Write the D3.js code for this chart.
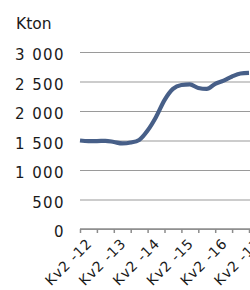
<!DOCTYPE html>
<html>
<head>
<meta charset="utf-8">
<script src="https://cdn.jsdelivr.net/npm/d3@7"></script>
<style>
  body { margin: 0; background: #fff; }
  svg { display: block; }
  text { font-family: "DejaVu Sans", sans-serif; fill: #1a1a1a; }
</style>
</head>
<body>
<div id="chart"></div>
<script>
// --- DATA ---
const quarters = [
  "Kv2 -12", "Kv3 -12", "Kv4 -12", "Kv1 -13",
  "Kv2 -13", "Kv3 -13", "Kv4 -13", "Kv1 -14",
  "Kv2 -14", "Kv3 -14", "Kv4 -14", "Kv1 -15",
  "Kv2 -15", "Kv3 -15", "Kv4 -15", "Kv1 -16",
  "Kv2 -16", "Kv3 -16", "Kv4 -16", "Kv1 -17",
  "Kv2 -17"
];
const volume = [
  1500, 1490, 1490, 1495,
  1475, 1450, 1465, 1510,
  1670, 1900, 2185, 2375,
  2440, 2450, 2390, 2375,
  2460, 2515, 2585, 2635,
  2645
];
const yTicks = [0, 500, 1000, 1500, 2000, 2500, 3000];
const unitLabel = "Kton";

// --- LAYOUT ---
const width = 250, height = 290;
const margin = { top: 52, right: 1, bottom: 61, left: 80 };

const svg = d3.select("#chart").append("svg")
    .attr("width", width)
    .attr("height", height);

const x = d3.scalePoint()
    .domain(quarters)
    .range([margin.left, width - margin.right]);

const y = d3.scaleLinear()
    .domain([0, 3000])
    .range([height - margin.bottom, margin.top]);

// Gridlines + y labels
const fmt = d => d3.format(",")(d).replace(",", " ");
const yAxis = svg.append("g")
    .attr("transform", `translate(${margin.left},0)`)
    .call(d3.axisLeft(y).tickValues(yTicks).tickFormat(fmt)
        .tickSize(-(width - margin.left)).tickPadding(15));
yAxis.select(".domain").remove();
yAxis.selectAll(".tick line").attr("stroke", "#9a9a9a").attr("stroke-width", 1.2);
yAxis.selectAll(".tick text")
    .attr("font-size", 15)
    .attr("letter-spacing", 1.4)
    .attr("dy", "0.5em")
    .style("fill", "#1a1a1a");

// Unit label
svg.append("text")
    .attr("x", 16)
    .attr("y", 28.5)
    .attr("font-size", 15.5)
    .text(unitLabel);

// X axis: tick every half year, label every year
const tickQ = quarters.filter((q, i) => i % 2 === 0);
const xAxis = svg.append("g")
    .attr("transform", `translate(0,${y(0)})`)
    .call(d3.axisBottom(x).tickValues(tickQ).tickSize(4).tickSizeOuter(0)
        .tickFormat(q => q.startsWith("Kv2") ? q : ""));
xAxis.select(".domain")
    .attr("stroke", "#8c8c8c").attr("stroke-width", 1.5)
    .attr("d", `M${margin.left},0H${width}`);
xAxis.selectAll(".tick line").attr("stroke", "#8c8c8c").attr("stroke-width", 1.5);
xAxis.selectAll(".tick text")
    .attr("font-size", 14)
    .attr("letter-spacing", 0.8)
    .attr("text-anchor", "end")
    .attr("transform", "translate(9,12) rotate(-45)")
    .attr("y", 0)
    .attr("dy", "0.35em")
    .style("fill", "#1a1a1a");

// Line
const line = d3.line()
    .x((d, i) => x(quarters[i]))
    .y(d => y(d))
    .curve(d3.curveMonotoneX);

svg.append("path")
    .datum(volume)
    .attr("fill", "none")
    .attr("stroke", "#475f88")
    .attr("stroke-width", 4.2)
    .attr("stroke-linejoin", "round")
    .attr("d", line);
</script>
</body>
</html>
